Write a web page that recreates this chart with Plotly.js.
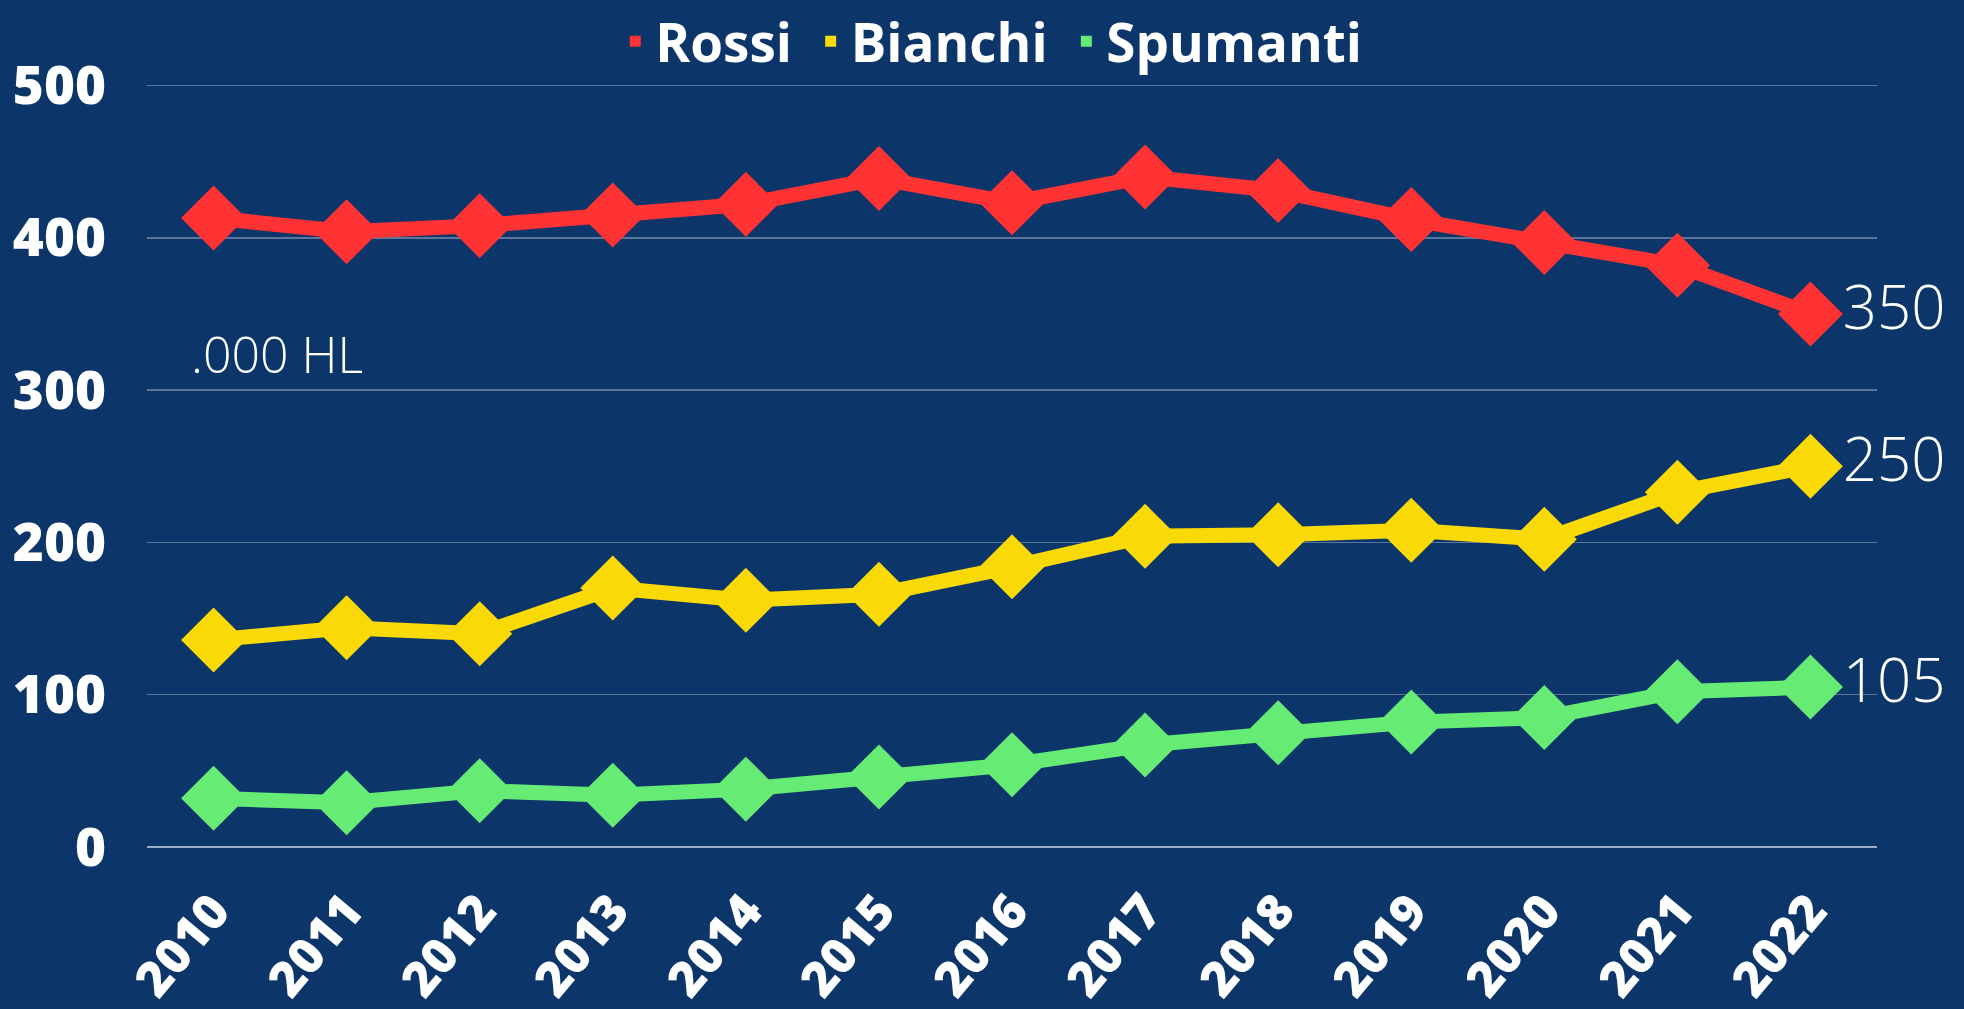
<!DOCTYPE html>
<html>
<head>
<meta charset="utf-8">
<script src="https://cdn.plot.ly/plotly-3.0.1.min.js"></script>
<style>
  html, body { margin: 0; padding: 0; background: #0C356A; }
  #chart { width: 1964px; height: 1009px; }
</style>
</head>
<body>
<div id="chart"></div>
<script>
const years = ["2010","2011","2012","2013","2014","2015","2016","2017","2018","2019","2020","2021","2022"];
const rossi    = [413, 404, 408, 415, 422, 439, 423, 440, 431, 412, 397, 382, 350];
const bianchi  = [136, 144, 140, 170, 162, 166, 184, 204, 205, 208, 202, 233, 250];
const spumanti = [32, 29, 37, 34, 38, 46, 54, 67, 75, 82, 85, 102, 105];
const seriesNames = ["Rossi", "Bianchi", "Spumanti"];
const yTicks = [0, 100, 200, 300, 400, 500];
const unitLabel = ".000 HL";

const colors = ["#FF3333", "#F9D906", "#66EB74"];
const allSeries = [rossi, bianchi, spumanti];

const lastLabel = arr => arr.map((v, i) => i === arr.length - 1 ? String(v) : "");

const traces = [];
allSeries.forEach((vals, k) => {
  traces.push({
    type: "scatter",
    mode: "lines+markers+text",
    x: years,
    y: vals,
    name: seriesNames[k],
    showlegend: false,
    line: { color: colors[k], width: 15 },
    marker: { symbol: "diamond", size: 50, color: colors[k] },
    text: lastLabel(vals),
    textposition: "middle right",
    textfont: { family: "Open Sans", size: 60, weight: 300, color: "#FFFFFF" },
    cliponaxis: false,
    hoverinfo: "x+y"
  });
});
allSeries.forEach((vals, k) => {
  traces.push({
    type: "scatter",
    mode: "markers",
    x: [null],
    y: [null],
    name: seriesNames[k] + (k < allSeries.length - 1 ? "\u00a0" : ""),
    showlegend: true,
    marker: { symbol: "square", size: 11, color: colors[k] }
  });
});

const layout = {
  width: 1964,
  height: 1009,
  paper_bgcolor: "#0C356A",
  plot_bgcolor: "#0C356A",
  margin: { l: 147, r: 87, t: 84, b: 162, autoexpand: false },
  showlegend: true,
  legend: {
    orientation: "h",
    x: 0.488, xanchor: "center",
    y: 1.056, yanchor: "middle",
    font: { family: "Open Sans", size: 53, weight: 700, color: "#FFFFFF" },
    bgcolor: "rgba(0,0,0,0)",
    itemwidth: 30,
    tracegroupgap: 0
  },
  xaxis: {
    type: "category",
    range: [-0.5, 12.5],
    automargin: false,
    showgrid: false,
    zeroline: false,
    showline: false,
    tickangle: -50,
    ticklabelstandoff: 24,
    tickfont: { family: "Open Sans", size: 49, weight: 800, color: "#FFFFFF" },
    fixedrange: true
  },
  yaxis: {
    range: [0, 501],
    automargin: false,
    tickvals: yTicks,
    ticktext: yTicks.map(String),
    showgrid: true,
    gridcolor: "rgba(255,255,255,0.32)",
    gridwidth: 1.5,
    zeroline: true,
    zerolinecolor: "rgba(255,255,255,0.6)",
    zerolinewidth: 1.5,
    showline: false,
    ticklabelstandoff: 40,
    tickfont: { family: "Open Sans", size: 53, weight: 800, color: "#FFFFFF" },
    fixedrange: true
  },
  annotations: [{
    xref: "paper", yref: "y",
    x: 0.024, y: 324,
    xanchor: "left", yanchor: "middle",
    text: unitLabel,
    showarrow: false,
    font: { family: "Open Sans", size: 50, weight: 300, color: "#FFFFFF" }
  }]
};

Plotly.newPlot("chart", traces, layout, { displayModeBar: false, staticPlot: true });
</script>
</body>
</html>
